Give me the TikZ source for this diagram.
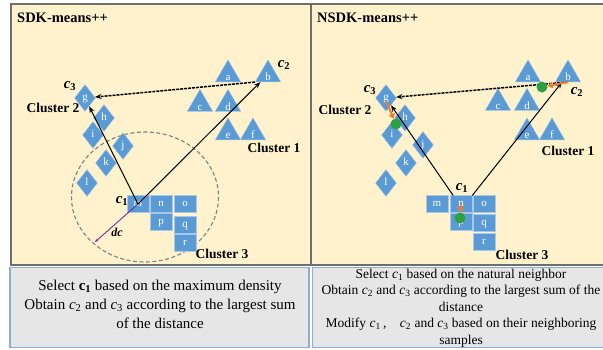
\documentclass[tikz,border=0pt]{standalone}
\usepackage{fontspec}
\setmainfont{Liberation Serif}
\usetikzlibrary{shapes.geometric,arrows.meta}
\definecolor{panelbg}{HTML}{FFF2CC}
\definecolor{shapeblue}{HTML}{5B9BD5}
\definecolor{shapeedge}{HTML}{A9C8E8}
\definecolor{boxbg}{HTML}{E7E6E6}
\definecolor{boxedge}{HTML}{8FAADC}
\definecolor{framegray}{HTML}{6E6E6E}
\definecolor{dotgreen}{HTML}{2EA043}
\definecolor{arrorange}{HTML}{ED7D31}
\definecolor{dcpurple}{HTML}{7030A0}
\newcommand\trilbl[1]{\raisebox{-6pt}[0pt][0pt]{#1}}
\newcommand\boxlbl[1]{\raisebox{-2.8pt}[0pt][0pt]{#1}}
\newcommand\cbi[1]{\textbf{\textit{c}\textsubscript{#1}}}
\begin{document}
\begin{tikzpicture}[x=1pt,y=-1pt,
  tri/.style={regular polygon, regular polygon sides=3, minimum size=29.5pt, inner sep=0pt,
    fill=shapeblue, draw=shapeedge, line width=0.4pt, text=white, font=\fontsize{11}{11}\selectfont},
  dia/.style={diamond, minimum width=21pt, minimum height=27pt, inner sep=0pt,
    fill=shapeblue, draw=shapeedge, line width=0.4pt, text=white, font=\fontsize{11}{11}\selectfont},
  sq/.style={rectangle, minimum width=22pt, minimum height=16.5pt, inner sep=0pt,
    fill=shapeblue, draw=shapeedge, line width=0.6pt, text=white, font=\fontsize{11}{11}\selectfont},
  title/.style={anchor=west, font=\fontsize{14.5}{15}\selectfont\bfseries, inner sep=0pt},
  clus/.style={font=\fontsize{13.5}{14}\selectfont\bfseries, inner sep=0pt},
  clab/.style={font=\fontsize{15}{15}\selectfont, inner sep=0pt},
  blk/.style={-{Stealth[length=6.5pt,width=5pt]}, line width=1pt, black},
  dsh/.style={-{Stealth[length=6.5pt,width=5pt]}, line width=1.5pt, black, dash pattern=on 3pt off 1pt},
  org/.style={-{Triangle[length=5pt,width=6.5pt]}, line width=2pt, arrorange},
  gdot/.style={circle, fill=dotgreen, minimum size=11pt, inner sep=0pt},
  btext/.style={align=center, inner sep=0pt}
]
\useasboundingbox (0,0) rectangle (603,349);
\begin{scope}
\clip (0,0) rectangle (603,349);
% panels
\draw[fill=panelbg, draw=framegray, line width=1.3pt] (11,4) rectangle (640,265);
\draw[framegray, line width=1.3pt] (311,4) -- (311,265);
\draw[fill=boxbg, draw=boxedge, line width=1.3pt] (10,267.5) rectangle (309,347.5);
\draw[fill=boxbg, draw=boxedge, line width=1.3pt] (312.5,267.5) rectangle (640,347.5);

% ---------------- left panel ----------------
\node[title] (Ltitle) at (17,18) {SDK-means++};
\draw[gray, line width=1.1pt, dash pattern=on 4pt off 2.5pt] (145,197) ellipse [x radius=73.5, y radius=65];
\node[tri] (La) at (228,74.5) {\trilbl{a}};
\node[tri] (Lb) at (268,74.5) {\trilbl{b}};
\node[tri] (Lc) at (200,104) {\trilbl{c}};
\node[tri] (Ld) at (228,104) {\trilbl{d}};
\node[tri] (Le) at (228,132.5) {\trilbl{e}};
\node[tri] (Lf) at (253,132.5) {\trilbl{f}};
\node[dia] (Lg) at (85,98) {\boxlbl{g}};
\node[dia] (Lh) at (104,118) {\boxlbl{h}};
\node[dia] (Li) at (93,135) {\boxlbl{i}};
\node[dia] (Lj) at (123,146) {\boxlbl{j}};
\node[dia] (Lk) at (106,163) {\boxlbl{k}};
\node[dia] (Ll) at (87,183) {\boxlbl{l}};
\node[sq] (Lm) at (138,204) {\boxlbl{m}};
\node[sq] (Ln) at (161,204) {\boxlbl{n}};
\node[sq] (Lo) at (185,204) {\boxlbl{o}};
\node[sq] (Lp) at (161,222) {\boxlbl{p}};
\node[sq] (Lq) at (185,225) {\boxlbl{q}};
\node[sq] (Lr) at (185,243) {\boxlbl{r}};
\node[clab] (Lc3) at (70,86) {\cbi{3}};
\node[clab] (Lc2) at (284,65) {\cbi{2}};
\node[clab] (Lc1) at (122,201) {\cbi{1}};
\node[clus] (Lcl2) at (53,108) {Cluster 2};
\node[clus] (Lcl1) at (274,148) {Cluster 1};
\node[clus] (Lcl3) at (222,254) {Cluster 3};
\coordinate (Ldc) at (95,242);
\draw[dcpurple, line width=0.9pt, -{Stealth[length=3.5pt,width=3pt]}] (Lm.center) -- (Ldc);
\node[font=\fontsize{12}{12}\selectfont\bfseries\itshape, inner sep=0pt] (Ldclab) at (117,232) {dc};
\draw[blk] (Lm.center) -- (Lg);
\draw[blk] (Lm.center) -- (Lb);
\draw[dsh] (Lb.corner 2) -- (Lg);

% ---------------- right panel ----------------
\node[title] (Rtitle) at (317,18) {NSDK-means++};
\node[tri] (Ra) at (528,74.5) {\trilbl{a}};
\node[tri] (Rb) at (568,74.5) {\trilbl{b}};
\node[tri] (Rc) at (498,103) {\trilbl{c}};
\node[tri] (Rd) at (527,103) {\trilbl{d}};
\node[tri] (Re) at (527,132.5) {\trilbl{e}};
\node[tri] (Rf) at (552,132.5) {\trilbl{f}};
\node[dia] (Rg) at (386,98) {\boxlbl{g}};
\node[dia] (Rh) at (405,118) {\boxlbl{h}};
\node[dia] (Ri) at (392,135) {\boxlbl{i}};
\node[dia] (Rj) at (423,145) {\boxlbl{j}};
\node[dia] (Rk) at (406,163) {\boxlbl{k}};
\node[dia] (Rl) at (386,183) {\boxlbl{l}};
\node[sq] (Rm) at (437,204) {\boxlbl{m}};
\node[sq] (Rn) at (461,204) {\boxlbl{n}};
\node[sq] (Ro) at (484,204) {\boxlbl{o}};
\node[sq] (Rp) at (461,222) {\boxlbl{p}};
\node[sq] (Rq) at (484,223) {\boxlbl{q}};
\node[sq] (Rr) at (484,242) {\boxlbl{r}};
\node[clab] (Rc3) at (370,90) {\cbi{3}};
\node[clab] (Rc2) at (577,92) {\cbi{2}};
\node[clab] (Rc1) at (462,188) {\cbi{1}};
\node[clus] (Rcl2) at (345,110) {Cluster 2};
\node[clus] (Rcl1) at (568,151) {Cluster 1};
\node[clus] (Rcl3) at (522,255) {Cluster 3};
\draw[blk] ([xshift=3.5pt]Rn.north west) -- (Rg);
\draw[blk] (Rn.north east) -- (Rb);
\draw[dsh] (Rb.south) -- (Rg);
\node[gdot] (Rgb) at (542,87) {};
\node[gdot] (Rgg) at (396,124) {};
\node[gdot] (Rgn) at (460,218) {};
\draw[org] (Rb.south) -- (Rgb);
\draw[org] ([yshift=-3pt]Rg.center) -- (Rgg);
\draw[org] (Rn.center) -- (Rgn);

% ---------------- bottom texts ----------------
\node[btext, font=\fontsize{15}{19}\selectfont] (Ltext) at (160,304)
  {Select \textbf{c}\textsubscript{\textbf{1}} based on the maximum density\\
   Obtain \textit{c}\textsubscript{2} and \textit{c}\textsubscript{3} according to the largest sum\\
   of the distance};
\node[btext, font=\fontsize{13.5}{16.5}\selectfont] (Rtext) at (461,308)
  {Select \textit{c}\textsubscript{1} based on the natural neighbor\\
   Obtain \textit{c}\textsubscript{2} and \textit{c}\textsubscript{3} according to the largest sum of the\\
   distance\\
   Modify \textit{c}\textsubscript{1}\,,\quad \textit{c}\textsubscript{2} and \textit{c}\textsubscript{3} based on their neighboring\\
   samples};
\end{scope}
\end{tikzpicture}
\end{document}
